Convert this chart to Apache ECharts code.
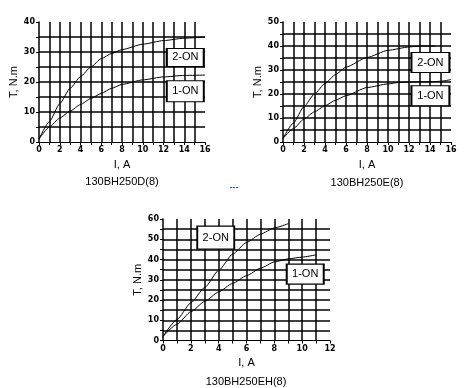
<!DOCTYPE html>
<html><head><meta charset="utf-8">
<script src="https://cdn.jsdelivr.net/npm/echarts@6/dist/echarts.min.js"></script>
<style>html,body{margin:0;padding:0;background:#fff}#c{width:473px;height:388px}</style>
</head><body><div id="c"></div>
<script>
// Chart 1: 130BH250D(8)
const d_x2 = [0, 1, 2, 3, 4, 5, 6, 7, 8, 10, 12, 14, 16];
const d_on2 = [1, 6.8, 12.8, 17.9, 21.8, 25, 27.8, 29.5, 30.8, 32.6, 33.8, 34.6, 35];
const d_x1 = [0, 1, 2, 3, 4, 5, 6, 7, 8, 10, 12, 14, 16];
const d_on1 = [1, 5, 8, 10.3, 12.5, 14.5, 16.2, 17.9, 19.2, 20.7, 21.7, 22.2, 22.3];
// Chart 2: 130BH250E(8)
const e_x2 = [0, 1, 2, 3, 4, 5, 6, 8, 10, 12, 13, 14.5];
const e_on2 = [1.5, 8, 14.8, 20, 24.4, 28.1, 31.2, 35.2, 38.2, 39.6, 40, 40];
const e_x1 = [0, 1, 2, 3, 4, 5, 6, 8, 10, 11, 12, 14, 15, 16];
const e_on1 = [1.5, 5.6, 9.6, 12.6, 15.1, 17.4, 19.3, 22.7, 24.2, 24.8, 25, 25.1, 25.3, 26];
// Chart 3: 130BH250EH(8)
const h_x2 = [0, 1, 2, 3, 4, 5, 6, 7, 8, 9];
const h_on2 = [2, 10.3, 18.6, 26.2, 34.6, 42.6, 48.4, 52.5, 55.6, 57.7];
const h_x1 = [0, 1, 2, 3, 4, 5, 6, 7, 8, 9, 10, 11];
const h_on1 = [2, 8, 14.2, 19.3, 24, 28.2, 32, 35.7, 38.8, 40.3, 41.2, 42.3];

const titles = ['130BH250D(8)', '130BH250E(8)', '130BH250EH(8)'];
const yMax = [40, 50, 60];
const xMax = [16, 16, 12];
const xLabelStep = 2, yLabelStep = 10, xGrid = 1, yGrid = 5;
const labelNames = ['2-ON', '1-ON'];
// label box anchor positions (data coords)
const boxPos = [
  [[14.1, 28.2], [14.1, 16.9]],
  [[14.04, 33.1], [14.04, 19.3]],
  [[3.79, 50.8], [10.22, 32.8]]
];
const boxSize = [
  [[37, 18], [37, 21]],
  [[38, 20], [38, 20]],
  [[37, 23], [37, 20]]
];

const grids = [
  {left: 39, top: 22, width: 166, height: 120},
  {left: 283, top: 22, width: 168, height: 120},
  {left: 163, top: 219, width: 167, height: 121.5}
];
const FONT = 'Liberation Sans';

const xAxes = [], yAxes = [], series = [];
for (let i = 0; i < 3; i++) {
  xAxes.push({
    gridIndex: i, type: 'value', min: 0, max: xMax[i], interval: xGrid,
    name: 'I, A', nameLocation: 'middle', nameGap: 17,
    nameTextStyle: {color: '#000', fontSize: 11, fontFamily: FONT},
    axisLine: {show: true, onZero: false, lineStyle: {color: '#000', width: 1}},
    axisTick: {show: true, length: 3, lineStyle: {color: '#000'}},
    axisLabel: {color: '#000', fontSize: 8, fontWeight: 'bold', fontFamily: 'DejaVu Sans', margin: 4,
      formatter: v => (v % xLabelStep === 0 ? String(v) : '')},
    splitLine: {show: true, showMinLine: false, showMaxLine: false, lineStyle: {color: '#000', width: 1.5}}
  });
  yAxes.push({
    gridIndex: i, type: 'value', min: 0, max: yMax[i], interval: yGrid,
    name: 'T, N.m', nameLocation: 'middle', nameGap: 18, nameRotate: 90,
    nameTextStyle: {color: '#000', fontSize: 11, fontFamily: FONT},
    axisLine: {show: true, onZero: false, lineStyle: {color: '#000', width: 1.5}},
    axisTick: {show: true, length: 3, lineStyle: {color: '#000'}},
    axisLabel: {color: '#000', fontSize: 8, fontWeight: 'bold', fontFamily: 'DejaVu Sans', margin: 4,
      formatter: v => (v % yLabelStep === 0 ? String(v) : '')},
    splitLine: {show: true, showMinLine: false, showMaxLine: false, lineStyle: {color: '#000', width: 1.5}}
  });
}
const curves = [
  [[d_x2, d_on2], [d_x1, d_on1]],
  [[e_x2, e_on2], [e_x1, e_on1]],
  [[h_x2, h_on2], [h_x1, h_on1]]
];
for (let i = 0; i < 3; i++) {
  for (let k = 0; k < 2; k++) {
    const [xs, ys] = curves[i][k];
    series.push({
      type: 'line', xAxisIndex: i, yAxisIndex: i, smooth: 0.2, smoothMonotone: 'x', symbol: 'none',
      lineStyle: {color: '#000', width: 1}, silent: true, z: 3,
      data: xs.map((x, j) => [x, ys[j]]),
      markPoint: {
        silent: true, z: 5,
        data: [{
          coord: boxPos[i][k], symbol: 'rect', symbolSize: boxSize[i][k],
          itemStyle: {color: '#fff', borderColor: '#000', borderWidth: 1.5},
          label: {show: true, position: 'inside', formatter: labelNames[k], color: '#000', fontSize: 11, fontFamily: FONT}
        }]
      }
    });
  }
}
const tStyle = {fontSize: 11, fontWeight: 'normal', color: '#000', fontFamily: FONT};
const chart = echarts.init(document.getElementById('c'), null, {renderer: 'canvas'});
chart.setOption({
  backgroundColor: '#fff',
  animation: false,
  grid: grids,
  xAxis: xAxes,
  yAxis: yAxes,
  series: series,
  title: [
    {text: titles[0], left: 122, top: 176, padding: 0, textAlign: 'center', textStyle: tStyle},
    {text: titles[1], left: 367, top: 177, padding: 0, textAlign: 'center', textStyle: tStyle},
    {text: titles[2], left: 246, top: 376, padding: 0, textAlign: 'center', textStyle: tStyle},
    {text: '---', left: 234, top: 183, padding: 0, textAlign: 'center', textStyle: {fontSize: 9, fontWeight: 'bold', color: '#3b5fa0', fontFamily: FONT}}
  ]
});
</script></body></html>
